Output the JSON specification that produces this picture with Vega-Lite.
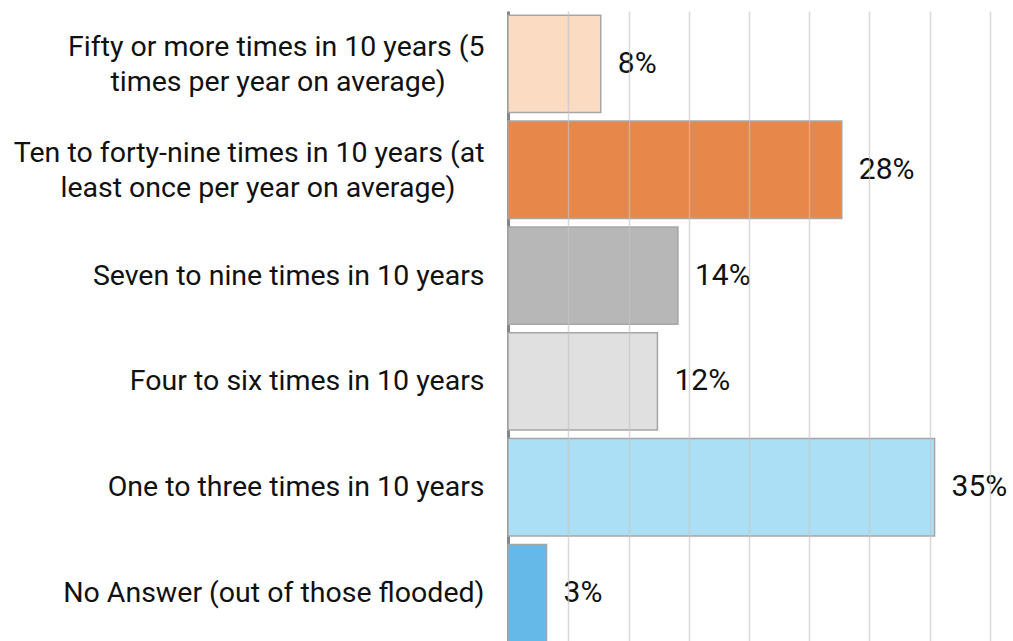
{
  "$schema": "https://vega.github.io/schema/vega-lite/v6.json",
  "autosize": "none",
  "width": 482,
  "height": 635,
  "padding": {"left": 508, "top": 11, "right": 23, "bottom": 0},
  "background": "white",
  "config": {
    "view": {"stroke": null},
    "font": "Roboto"
  },
  "data": {
    "values": [
      {"category": "Fifty or more times in 10 years (5 times per year on average)", "share": 0.077, "color": "c1"},
      {"category": "Ten to forty-nine times in 10 years (at least once per year on average)", "share": 0.277, "color": "c2"},
      {"category": "Seven to nine times in 10 years", "share": 0.141, "color": "c3"},
      {"category": "Four to six times in 10 years", "share": 0.124, "color": "c4"},
      {"category": "One to three times in 10 years", "share": 0.354, "color": "c5"},
      {"category": "No Answer (out of those flooded)", "share": 0.032, "color": "c6"}
    ]
  },
  "encoding": {
    "y": {
      "field": "category",
      "type": "nominal",
      "sort": null,
      "title": null,
      "scale": {"paddingInner": 0.08, "paddingOuter": 0.04},
      "axis": {
        "domainColor": "#868686",
        "domainWidth": 3,
        "ticks": false,
        "grid": false,
        "labelFont": "Roboto",
        "labelFontSize": 28.5,
        "labelFontWeight": 400,
        "labelColor": "#111111",
        "labelPadding": 24,
        "labelLimit": 600,
        "labelLineHeight": 35,
        "labelOffset": {"condition": {"test": "indexof(datum.value, 'average') >= 0", "value": -17}, "value": 0},
        "labelExpr": "datum.value == 'Fifty or more times in 10 years (5 times per year on average)' ? ['Fifty or more times in 10 years (5', 'times per year on average)\u2006\u2006\u2006\u2006\u2006\u2006\u2006\u2006\u2060'] : datum.value == 'Ten to forty-nine times in 10 years (at least once per year on average)' ? ['Ten to forty-nine times in 10 years (at', 'least once per year on average)\u2006\u2006\u2006\u2006\u2006\u2006\u2060'] : datum.value"
      }
    },
    "x": {
      "field": "share",
      "type": "quantitative",
      "title": null,
      "scale": {"domain": [0, 0.4], "nice": false, "zero": true},
      "axis": {
        "values": [0.05, 0.1, 0.15, 0.2, 0.25, 0.3, 0.35, 0.4],
        "labels": false,
        "ticks": false,
        "domain": false,
        "grid": true,
        "gridColor": "#c4c4c4",
        "gridOpacity": 0.65,
        "gridWidth": 1.5,
        "zindex": 1
      }
    }
  },
  "layer": [
    {
      "mark": {"type": "bar", "stroke": "#a6a6a6", "strokeWidth": 1.5},
      "encoding": {
        "color": {
          "field": "color",
          "type": "nominal",
          "legend": null,
          "scale": {
            "domain": ["c1", "c2", "c3", "c4", "c5", "c6"],
            "range": ["#FBDCC3", "#E8874A", "#B7B7B7", "#E0E0E0", "#ABDFF5", "#64B9E8"]
          }
        }
      }
    },
    {
      "mark": {"type": "text", "align": "left", "baseline": "middle", "dx": 17, "fontSize": 30, "fontWeight": 400, "font": "Roboto", "color": "#111111"},
      "encoding": {
        "text": {"field": "share", "type": "quantitative", "format": ".0%"}
      }
    }
  ]
}
